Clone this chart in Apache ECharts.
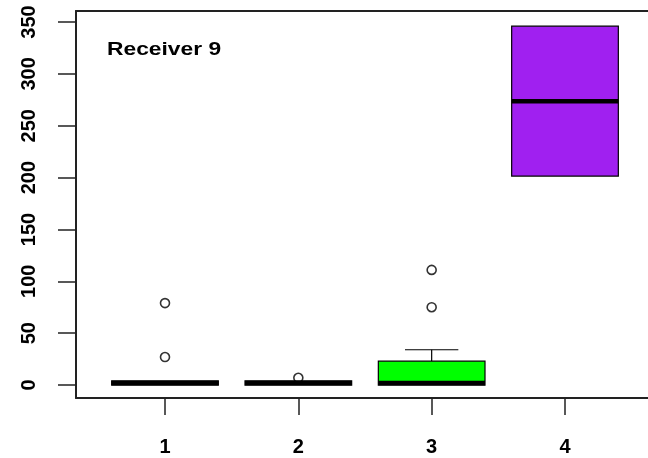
<!DOCTYPE html>
<html>
<head>
<meta charset="utf-8">
<script src="https://cdn.jsdelivr.net/npm/echarts@6/dist/echarts.min.js"></script>
<style>html,body{margin:0;padding:0;background:#fff}#c{width:648px;height:458px}</style>
</head>
<body>
<div id="c"></div>
<script>
// categories (group positions) and tick labels
var categories = ['1', '2', '3', '4'];
var xTicks = [1, 2, 3, 4];
var yTicks = [0, 50, 100, 150, 200, 250, 300, 350];
// box statistics per group: [min, q1, median, q3, max]
var box1 = [0, 0, 2, 4, 4];
var box2 = [0, 0, 2, 4, 4];
var box3 = [0, 0, 2, 23, 34];
var box4 = [201.5, 201.5, 273.5, 346, 346];
// outliers per group
var out1 = [27, 79];
var out2 = [7];
var out3 = [75, 111];
var out4 = [];
var fills = ['#FF0000', '#0000FF', '#00FF00', '#A020F0'];
var title = 'Receiver 9';

var boxes = [box1, box2, box3, box4];
var outs = [out1, out2, out3, out4];
var boxData = boxes.map(function (b, i) { return [xTicks[i]].concat(b); });
var outData = [];
outs.forEach(function (o, i) { o.forEach(function (v) { outData.push([xTicks[i], v]); }); });

var chart = echarts.init(document.getElementById('c'), null, {renderer: 'canvas'});
var FONT = 'Liberation Sans';
var AXC = '#222';
chart.setOption({
  animation: false,
  grid: {left: 76, top: 11, width: 572, height: 387, show: false, outerBoundsMode: 'none', containLabel: false},
  xAxis: [{
    type: 'value', min: 0.3325, max: 4.6225, position: 'bottom',
    splitLine: {show: false},
    axisLine: {show: true, onZero: false, lineStyle: {color: AXC, width: 2}},
    axisTick: {show: true, length: 17, inside: false, customValues: xTicks, lineStyle: {color: AXC, width: 1.5}},
    axisLabel: {show: true, customValues: xTicks, margin: 39, fontFamily: FONT, fontWeight: 'bold', fontSize: 20, color: '#000',
      formatter: function (v) { return categories[xTicks.indexOf(Math.round(v))]; }}
  }, {
    type: 'value', min: 0.3325, max: 4.6225, position: 'top',
    splitLine: {show: false},
    axisLine: {show: true, onZero: false, lineStyle: {color: AXC, width: 2}},
    axisTick: {show: false}, axisLabel: {show: false}
  }],
  yAxis: {
    type: 'value', min: -12.5, max: 360.6,
    splitLine: {show: false},
    axisLine: {show: true, onZero: false, lineStyle: {color: AXC, width: 2}},
    axisTick: {show: true, length: 18, customValues: yTicks, lineStyle: {color: AXC, width: 1.5}},
    axisLabel: {show: true, customValues: yTicks, rotate: 90, margin: 37, fontFamily: FONT, fontWeight: 'bold', fontSize: 20, color: '#000'}
  },
  series: [{
    type: 'custom',
    data: boxData,
    renderItem: function (params, api) {
      var x = api.value(0);
      var mn = api.value(1), q1 = api.value(2), md = api.value(3), q3 = api.value(4), mx = api.value(5);
      var hw = api.size([0.4, 0])[0];
      var sw = hw / 2;
      var c = api.coord([x, 0])[0];
      var y = function (v) { return api.coord([x, v])[1]; };
      var children = [];
      var wl = {stroke: '#000', lineWidth: 1.2};
      if (mx > q3) {
        children.push({type: 'line', shape: {x1: c, y1: y(q3), x2: c, y2: y(mx)}, style: wl});
        children.push({type: 'line', shape: {x1: c - sw, y1: y(mx), x2: c + sw, y2: y(mx)}, style: wl});
      }
      if (mn < q1) {
        children.push({type: 'line', shape: {x1: c, y1: y(q1), x2: c, y2: y(mn)}, style: wl});
        children.push({type: 'line', shape: {x1: c - sw, y1: y(mn), x2: c + sw, y2: y(mn)}, style: wl});
      }
      children.push({type: 'rect', shape: {x: c - hw, y: y(q3), width: 2 * hw, height: y(q1) - y(q3)},
        style: {fill: fills[params.dataIndex], stroke: '#000', lineWidth: 1.2}});
      children.push({type: 'line', shape: {x1: c - hw, y1: y(md), x2: c + hw, y2: y(md)}, style: {stroke: '#000', lineWidth: 4.5}});
      return {type: 'group', children: children};
    }
  }, {
    type: 'scatter',
    data: outData,
    symbol: 'circle',
    symbolSize: 9,
    itemStyle: {color: 'transparent', borderColor: '#000', borderWidth: 1.6}
  }],
  graphic: [{
    type: 'text', x: 107, y: 40, scaleX: 1.2,
    style: {text: title, font: 'bold 19px "Liberation Sans"', fill: '#000'}
  }]
});
</script>
</body>
</html>
